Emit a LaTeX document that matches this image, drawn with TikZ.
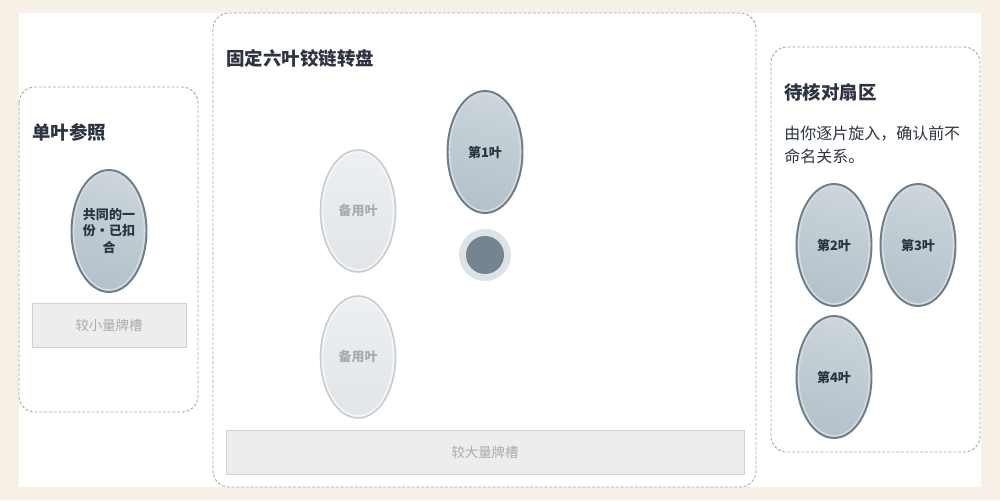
\documentclass[tikz,border=0pt]{standalone}
\usepackage{fontspec}
\setmainfont{Noto Sans CJK SC}
\usetikzlibrary{shapes.geometric}
\definecolor{paper}{HTML}{F6F0E7}
\definecolor{ink}{HTML}{2B3440}
\definecolor{rim}{HTML}{6E7D87}
\definecolor{rimin}{HTML}{D4DCE1}
\definecolor{leaftop}{HTML}{CBD5DA}
\definecolor{leafbot}{HTML}{B3C1C9}
\definecolor{sparetop}{HTML}{EDF0F2}
\definecolor{sparebot}{HTML}{E1E5E8}
\definecolor{spare}{HTML}{C9CDD0}
\definecolor{hubc}{HTML}{74858F}
\definecolor{hubr}{HTML}{DCE3E7}
\definecolor{mute}{HTML}{ABABAB}
\tikzset{
  panel/.style={draw=gray!70, line width=0.5pt, dash pattern=on 1.6pt off 1.1pt,
    rounded corners=0.32cm, fill=white},
  title/.style={anchor=west, inner sep=0, text=ink,
    font=\bfseries\fontsize{10.5}{12}\selectfont},
  leaf/.style={ellipse, inner sep=0, minimum width=1.5cm, minimum height=2.44cm,
    draw=rim, line width=1.1pt, top color=leaftop, bottom color=leafbot,
    shading angle=-15, text=ink, align=center,
    font=\bfseries\fontsize{7.4}{9.4}\selectfont,
    path picture={\draw[rimin, line width=1pt] (path picture bounding box.center)
      ellipse [x radius=0.71cm, y radius=1.18cm];}},
  spareleaf/.style={leaf, draw=spare, line width=0.9pt, top color=sparetop,
    bottom color=sparebot, text=mute,
    path picture={\draw[white!80!spare, line width=1pt] (path picture bounding box.center)
      ellipse [x radius=0.71cm, y radius=1.18cm];}},
  slot/.style={rectangle, draw=black!18, line width=0.5pt, fill=black!7, text=mute,
    minimum height=0.88cm, font=\fontsize{7.6}{9}\selectfont}
}
\begin{document}
\begin{tikzpicture}[x=0.02cm, y=-0.02cm]
    \fill[paper] (0,0) rectangle (1000,500);
    \fill[white] (19,13) rectangle (981,487);
    % panels
    \draw[panel] (19,87) rectangle (198,412);
    \draw[panel] (213,13) rectangle (756,487);
    \draw[panel] (771,47) rectangle (980,452);
    % single leaf
    \node[title] (t1) at (32,132) {单叶参照};
    \node[leaf, inner xsep=-4pt] (ref) at (109,231) {共同的一\\份·已扣\\合};
    \node[slot, minimum width=3.08cm] (small) at (109,325) {较小量牌槽};
    % turntable
    \node[title] (t2) at (226,58) {固定六叶铰链转盘};
    \node[leaf] (l1) at (485,152) {第1叶};
    \node[spareleaf] (s1) at (358,211) {备用叶};
    \node[spareleaf] (s2) at (358,357) {备用叶};
    \node[circle, fill=hubr, minimum size=1.04cm, inner sep=0] (hub) at (485,255) {};
    \node[circle, fill=hubc, minimum size=0.76cm, inner sep=0] at (hub) {};
    \node[slot, minimum width=10.36cm] (big) at (485,452) {较大量牌槽};
    % pending
    \node[title] (t3) at (784,92) {待核对扇区};
    \node[anchor=north west, inner sep=0, text=ink, align=left,
      font=\fontsize{9.1}{13}\selectfont] (note) at (784,126)
      {由你逐片旋入，确认前不\\命名关系。};
    \node[leaf] (l2) at (834,245) {第2叶};
    \node[leaf] (l3) at (918,245) {第3叶};
    \node[leaf] (l4) at (834,377) {第4叶};
\end{tikzpicture}
\end{document}
